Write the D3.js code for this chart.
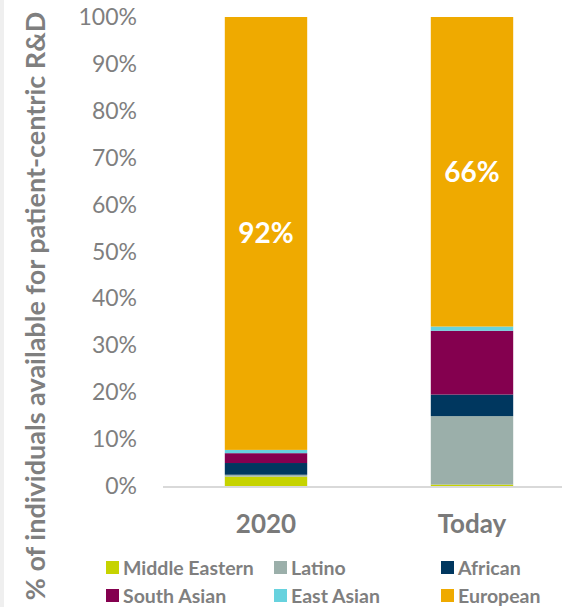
<!DOCTYPE html>
<head>
  <meta charset="utf-8">
  <script src="https://d3js.org/d3.v7.min.js"></script>
  <style>
    body { margin: 0; background: #fff; }
    text { font-family: Lato, "Open Sans", sans-serif; }
  </style>
</head>
<body>
  <script>
    // categories and series
    var years = ["2020", "Today"];
    var groups = ["Middle Eastern", "Latino", "African", "South Asian", "East Asian", "European"];
    var colors = ["#c6d300", "#9bafaa", "#00375f", "#84004f", "#67d2de", "#efaa00"];
    // values in %, one array per group: [2020, Today]
    var middleEastern = [2.0, 0.3];
    var latino = [0.4, 14.6];
    var african = [2.5, 4.6];
    var southAsian = [2.1, 13.6];
    var eastAsian = [0.7, 0.9];
    var european = [92.3, 66.0];
    var barLabels = ["92%", "66%"];
    var yTicks = [0, 10, 20, 30, 40, 50, 60, 70, 80, 90, 100];

    var width = 562, height = 607;
    var margin = { left: 163, right: -13, top: 17, bottom: 121 };

    var series = [middleEastern, latino, african, southAsian, eastAsian, european];
    var rows = years.map(function(y, i) {
      var r = { year: y };
      groups.forEach(function(g, j) { r[g] = series[j][i]; });
      return r;
    });
    var stacked = d3.stack().keys(groups)(rows);

    var svg = d3.select("body").append("svg")
      .attr("width", width)
      .attr("height", height);

    // thin grey strip on the left edge
    svg.append("rect")
      .attr("x", 0).attr("y", 0)
      .attr("width", 4).attr("height", height)
      .attr("fill", "#efefef");

    var x = d3.scaleBand()
      .domain(years)
      .range([margin.left, width - margin.right])
      .paddingInner(0.6)
      .paddingOuter(0.3);

    var y = d3.scaleLinear()
      .domain([0, 100])
      .range([height - margin.bottom, margin.top]);

    var color = d3.scaleOrdinal().domain(groups).range(colors);

    // bars
    svg.append("g").selectAll("g")
      .data(stacked)
      .join("g")
      .attr("fill", function(d) { return color(d.key); })
      .selectAll("rect")
      .data(function(d) { return d; })
      .join("rect")
      .attr("x", function(d) { return x(d.data.year); })
      .attr("width", x.bandwidth())
      .attr("y", function(d) { return y(d[1]); })
      .attr("height", function(d) { return y(d[0]) - y(d[1]); });

    // x axis baseline
    svg.append("line")
      .attr("x1", margin.left).attr("x2", width)
      .attr("y1", y(0) + 1).attr("y2", y(0) + 1)
      .attr("stroke", "#d9d9d9").attr("stroke-width", 2);

    // y tick labels
    svg.append("g").selectAll("text")
      .data(yTicks)
      .join("text")
      .attr("x", 137)
      .attr("y", function(d) { return y(d); })
      .attr("dy", "0.35em")
      .attr("text-anchor", "end")
      .attr("fill", "#7f7f7f")
      .style("font-size", "23px")
      .text(function(d) { return d + "%"; });

    // x category labels
    svg.append("g").selectAll("text")
      .data(years)
      .join("text")
      .attr("x", function(d) { return x(d) + x.bandwidth() / 2; })
      .attr("y", 533)
      .attr("text-anchor", "middle")
      .attr("fill", "#7a7a7a")
      .style("font-size", "26px")
      .style("font-weight", "bold")
      .text(function(d) { return d; });

    // value labels inside the European segment
    svg.append("g").selectAll("text")
      .data(stacked[5])
      .join("text")
      .attr("x", function(d) { return x(d.data.year) + x.bandwidth() / 2; })
      .attr("y", function(d) { return (y(d[0]) + y(d[1])) / 2; })
      .attr("text-anchor", "middle")
      .attr("dy", "0.35em")
      .attr("fill", "#fff")
      .style("font-size", "28px")
      .style("font-weight", "bold")
      .text(function(d, i) { return barLabels[i]; });

    // y axis title
    svg.append("text")
      .attr("transform", "translate(45,306) rotate(-90)")
      .attr("text-anchor", "middle")
      .attr("fill", "#7f7f7f")
      .style("font-size", "27px")
      .style("font-weight", "bold")
      .text("% of individuals available for patient-centric R&D");

    // legend
    var legendX = [106, 274, 441];
    var legend = svg.append("g").selectAll("g")
      .data(groups)
      .join("g")
      .attr("transform", function(d, i) {
        return "translate(" + legendX[i % 3] + "," + (568 + Math.floor(i / 3) * 28) + ")";
      });
    legend.append("rect")
      .attr("x", 0).attr("y", -7)
      .attr("width", 13).attr("height", 13)
      .attr("fill", function(d) { return color(d); });
    legend.append("text")
      .attr("x", 17)
      .attr("dy", "0.35em")
      .attr("fill", "#7f7f7f")
      .style("font-size", "19.5px")
      .style("font-weight", "bold")
      .text(function(d) { return d; });
  </script>
</body>
